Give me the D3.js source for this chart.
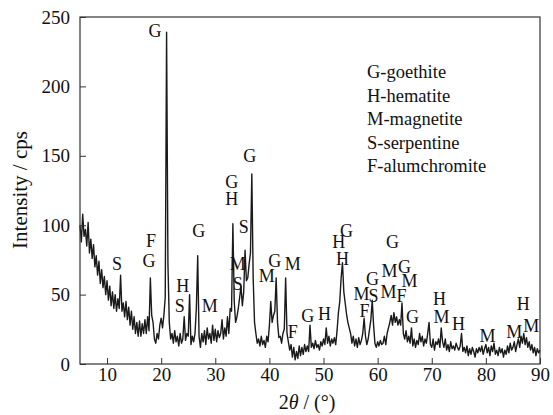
<!DOCTYPE html>
<html>
<head>
<meta charset="utf-8">
<script src="https://cdn.jsdelivr.net/npm/d3@7"></script>
<style>
  body { margin: 0; background: #fff; }
</style>
</head>
<body>
<svg width="553" height="415"></svg>
<script>
/* XRD pattern, sampled every 0.25 deg from 5 to 90 */
var angleStart = 5,
    angleStep = 0.25;

var intensity = [
  100, 88, 108, 92,   // 5
  97, 85, 102, 80,    // 6
  90, 76, 86, 70,     // 7
  78, 64, 74, 58,     // 8
  68, 55, 63, 50,     // 9
  60, 46, 56, 42,     // 10
  52, 40, 50, 38,     // 11
  47, 40, 64, 38,     // 12
  44, 34, 45, 32,     // 13
  41, 28, 38, 25,     // 14
  34, 22, 30, 20,     // 15
  31, 20, 29, 22,     // 16
  32, 22, 34, 24,     // 17
  62, 35, 30, 18,     // 18
  15, 22, 18, 28,     // 19
  33, 26, 35, 48,     // 20
  239, 72, 30, 18,    // 21
  22, 15, 24, 16,     // 22
  20, 13, 22, 15,     // 23
  18, 34, 17, 22,     // 24
  20, 50, 14, 20,     // 25
  16, 22, 40, 78,     // 26
  20, 12, 22, 16,     // 27
  24, 14, 26, 18,     // 28
  22, 15, 28, 17,     // 29
  25, 16, 24, 19,     // 30
  22, 32, 18, 26,     // 31
  20, 34, 22, 40,     // 32
  38, 101, 45, 30,    // 33
  34, 40, 48, 56,     // 34
  42, 52, 82, 60,     // 35
  62, 72, 80, 137,    // 36
  62, 30, 22, 15,     // 37
  18, 13, 20, 14,     // 38
  17, 12, 20, 16,     // 39
  28, 45, 30, 35,     // 40
  38, 62, 30, 19,     // 41
  20, 15, 22, 25,     // 42
  62, 22, 16, 10,     // 43
  14, 5, 12, 3,       // 44
  9, 4, 13, 6,        // 45
  12, 7, 14, 9,       // 46
  13, 9, 28, 12,      // 47
  15, 11, 17, 12,     // 48
  14, 10, 16, 13,     // 49
  18, 14, 26, 15,     // 50
  20, 13, 18, 15,     // 51
  19, 14, 24, 37,     // 52
  45, 62, 73, 52,     // 53
  44, 36, 30, 26,     // 54
  22, 15, 20, 13,     // 55
  18, 12, 19, 14,     // 56
  17, 22, 33, 20,     // 57
  14, 18, 25, 32,     // 58
  46, 28, 15, 12,     // 59
  16, 13, 17, 14,     // 60
  15, 20, 14, 22,     // 61
  26, 30, 35, 28,     // 62
  37, 30, 34, 28,     // 63
  32, 28, 44, 22,     // 64
  18, 24, 16, 20,     // 65
  15, 26, 13, 18,     // 66
  12, 17, 14, 22,     // 67
  16, 20, 13, 18,     // 68
  15, 22, 30, 14,     // 69
  12, 18, 10, 16,     // 70
  14, 18, 12, 26,     // 71
  16, 12, 18, 10,     // 72
  14, 9, 16, 11,      // 73
  13, 10, 15, 12,     // 74
  10, 13, 22, 9,      // 75
  12, 8, 13, 6,       // 76
  11, 7, 12, 9,       // 77
  5, 11, 8, 12,       // 78
  9, 13, 7, 11,       // 79
  14, 8, 12, 6,       // 80
  13, 9, 15, 7,       // 81
  10, 6, 12, 8,       // 82
  11, 5, 10, 7,       // 83
  13, 8, 15, 10,      // 84
  12, 16, 9, 14,      // 85
  18, 12, 20, 15,     // 86
  22, 14, 19, 12,     // 87
  16, 10, 14, 8,      // 88
  12, 6, 11, 8,       // 89
  10                  // 90
];

// phase letters placed at [2theta, intensity]
var peakLabels = [
  ["S", 11.83, 67.7], ["F", 18.10, 84.3], ["G", 17.73, 69.9], ["G", 18.84, 235.6],
  ["H", 24.0, 51.9], ["S", 23.45, 37.5], ["G", 26.96, 91.5], ["M", 28.99, 37.5],
  ["G", 33.04, 126.8], ["H", 33.04, 114.6], ["G", 36.37, 145.5], ["S", 35.26, 94.4],
  ["M", 34.15, 67.7], ["S", 34.15, 53.3], ["M", 39.5, 59.1], ["G", 40.98, 69.9],
  ["M", 44.3, 67.7], ["F", 44.3, 18.7], ["G", 47.07, 30.3], ["H", 50.2, 31.7],
  ["H", 52.79, 83.6], ["G", 54.26, 91.5], ["H", 53.52, 71.3], ["M", 57.03, 46.1],
  ["S", 59.24, 44.7], ["F", 57.58, 33.9], ["G", 59.06, 56.9], ["G", 62.75, 83.6],
  ["M", 62.2, 62.7], ["M", 62.01, 47.6], ["G", 64.96, 65.6], ["M", 65.89, 55.5],
  ["F", 64.41, 44.7], ["G", 66.44, 29.5], ["H", 71.42, 42.5], ["M", 71.79, 29.5],
  ["H", 74.93, 24.5], ["M", 80.28, 15.9], ["M", 85.26, 18.7], ["H", 86.92, 38.9],
  ["M", 88.4, 23.1]
];

var legendItems = ["G-goethite", "H-hematite", "M-magnetite", "S-serpentine", "F-alumchromite"];

var xTicks = [10, 20, 30, 40, 50, 60, 70, 80, 90],
    yTicks = [0, 50, 100, 150, 200, 250];

var serif = "'Liberation Serif'";

var svg = d3.select("svg"),
    margin = {top: 17, right: 13, bottom: 51, left: 80},
    w = +svg.attr("width") - margin.left - margin.right,
    h = +svg.attr("height") - margin.top - margin.bottom;

var x = d3.scaleLinear().domain([5, 90]).range([0, w]),
    y = d3.scaleLinear().domain([0, 250]).range([h, 0]);

var data = intensity.map(function(v, i) {
  return {angle: angleStart + i * angleStep, value: v};
});

var g = svg.append("g")
    .attr("transform", "translate(" + margin.left + "," + margin.top + ")");

var line = d3.line()
    .x(function(d) { return x(d.angle); })
    .y(function(d) { return y(d.value); });

g.append("path")
    .datum(data)
    .attr("fill", "none")
    .attr("stroke", "#1a1a1a")
    .attr("stroke-width", 1.4)
    .attr("stroke-linejoin", "round")
    .attr("d", line);

// axes, ticks pointing inwards
var xAxis = g.append("g")
    .attr("transform", "translate(0," + h + ")")
    .call(d3.axisBottom(x).tickValues(xTicks).tickSize(-6).tickPadding(4).tickSizeOuter(0));

var yAxis = g.append("g")
    .call(d3.axisLeft(y).tickValues(yTicks).tickSize(-6).tickPadding(10).tickSizeOuter(0));

[xAxis, yAxis].forEach(function(a) {
  a.attr("font-family", serif).attr("font-size", 19);
  a.select(".domain").remove();
  a.selectAll("line").attr("stroke", "#333").attr("stroke-width", 1);
  a.selectAll("text")
    .attr("font-family", serif)
    .attr("font-size", 19)
    .attr("fill", "#111");
});

g.append("rect")
    .attr("width", w)
    .attr("height", h)
    .attr("fill", "none")
    .attr("stroke", "#333")
    .attr("stroke-width", 1.2);

g.selectAll(".peak")
    .data(peakLabels)
    .enter().append("text")
    .attr("class", "peak")
    .attr("x", function(d) { return x(d[1]); })
    .attr("y", function(d) { return y(d[2]); })
    .attr("text-anchor", "middle")
    .attr("font-family", serif)
    .attr("font-size", 18)
    .attr("fill", "#111")
    .text(function(d) { return d[0]; });

g.selectAll(".legend")
    .data(legendItems)
    .enter().append("text")
    .attr("class", "legend")
    .attr("x", 287)
    .attr("y", function(d, i) { return 61 + i * 23.5; })
    .attr("font-family", serif)
    .attr("font-size", 18.5)
    .attr("fill", "#111")
    .text(function(d) { return d; });

svg.append("text")
    .attr("transform", "translate(27,190) rotate(-90)")
    .attr("text-anchor", "middle")
    .attr("font-family", serif)
    .attr("font-size", 21)
    .attr("fill", "#111")
    .text("Intensity / cps");

var xt = svg.append("text")
    .attr("x", 307)
    .attr("y", 409)
    .attr("text-anchor", "middle")
    .attr("font-family", serif)
    .attr("font-size", 20)
    .attr("fill", "#111");
xt.append("tspan").text("2");
xt.append("tspan").attr("font-style", "italic").text("\u03b8");
xt.append("tspan").text(" / (\u00b0)");
</script>
</body>
</html>
